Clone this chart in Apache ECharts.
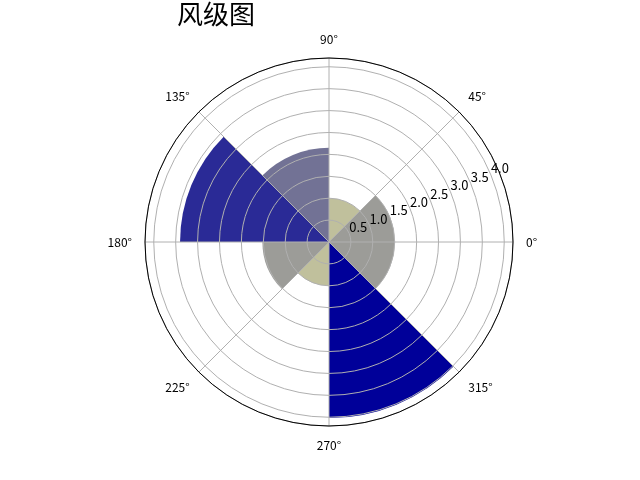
<!DOCTYPE html>
<html><head><meta charset="utf-8">
<script src="https://cdn.jsdelivr.net/npm/echarts@6/dist/echarts.min.js"></script>
<style>html,body{margin:0;padding:0;background:#fff}#c{width:640px;height:480px}</style>
</head><body><div id="c"></div>
<script>
const titleText = '风级图';
const sectors = ['0-45', '45-90', '90-135', '135-180', '180-225', '225-270', '270-315', '315-360'];
const radii = [1.5, 1.0, 2.15, 3.4, 1.52, 1.0, 4.02, 1.5];
const barColors = ['#9c9c98', '#c0c09c', '#727295', '#2a2a96', '#9c9c98', '#c0c09c', '#000099', '#9c9c98'];
const angleTicks = [0, 45, 90, 135, 180, 225, 270, 315];
const radiusTicks = [0.5, 1.0, 1.5, 2.0, 2.5, 3.0, 3.5, 4.0];
const rMax = 4.2;

const font = '"Noto Sans CJK SC", "DejaVu Sans", sans-serif';
const center = [329, 242];
const R = 184;

const chart = echarts.init(document.getElementById('c'));
chart.setOption({
  animation: false,
  backgroundColor: '#fff',
  title: {
    text: titleText, left: 172, top: -4,
    textStyle: { fontFamily: font, fontSize: 26, fontWeight: 'normal', color: '#000' }
  },
  polar: [
    { center: center, radius: R },
    { center: center, radius: R },
    { center: center, radius: R }
  ],
  angleAxis: [
    { polarIndex: 0, type: 'category', data: sectors, startAngle: 0, clockwise: false,
      axisLine: { show: false }, axisTick: { show: false }, axisLabel: { show: false }, splitLine: { show: false } },
    { polarIndex: 1, type: 'value', min: 0, max: 360, interval: 45, startAngle: 0, clockwise: false, z: 10,
      axisLine: { show: true, lineStyle: { color: '#000', width: 1 } },
      axisTick: { show: false },
      axisLabel: { show: true, margin: 13, fontFamily: font, fontSize: 12, color: '#000',
        formatter: v => angleTicks.indexOf(v) >= 0 ? v + '°' : '' },
      splitLine: { show: true, lineStyle: { color: '#b0b0b0', width: 1 } } },
    { polarIndex: 2, type: 'value', min: 0, max: 360, startAngle: 22.5, clockwise: false,
      axisLine: { show: false }, axisTick: { show: false }, axisLabel: { show: false }, splitLine: { show: false } }
  ],
  radiusAxis: [
    { polarIndex: 0, type: 'value', min: 0, max: rMax,
      axisLine: { show: false }, axisTick: { show: false }, axisLabel: { show: false }, splitLine: { show: false } },
    { polarIndex: 1, type: 'value', min: 0, max: rMax, interval: 0.5, z: 10,
      axisLine: { show: false }, axisTick: { show: false }, axisLabel: { show: false },
      splitLine: { show: true, lineStyle: { color: '#b0b0b0', width: 1 } } },
    { polarIndex: 2, type: 'value', min: 0, max: rMax, interval: 0.5, z: 11,
      axisLine: { show: false }, axisTick: { show: false }, splitLine: { show: false },
      axisLabel: { show: true, fontFamily: font, fontSize: 13, color: '#000', margin: 0,
        align: 'left', verticalAlign: 'bottom',
        formatter: v => radiusTicks.some(t => Math.abs(t - v) < 1e-6) ? v.toFixed(1) : '' } }
  ],
  series: [{
    type: 'bar', coordinateSystem: 'polar', polarIndex: 0,
    barWidth: '100%', barCategoryGap: '0%',
    data: radii.map((r, i) => ({ value: r, itemStyle: { color: barColors[i] } }))
  }]
});
</script></body></html>
